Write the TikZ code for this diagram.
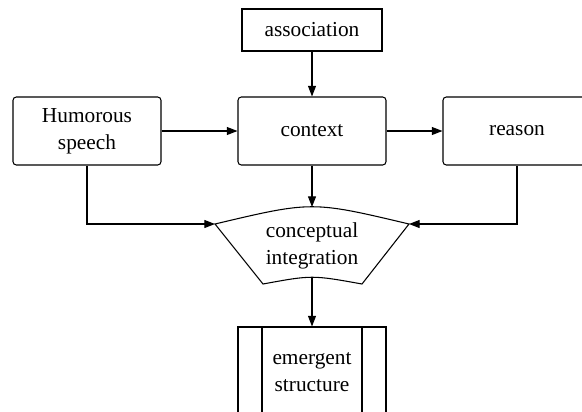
\documentclass[tikz,border=0pt]{standalone}
\usepackage{fontspec}
\setmainfont{Liberation Serif}
\usetikzlibrary{arrows.meta}
\tikzset{
  box/.style={draw, line width=0.8pt, minimum width=111pt, minimum height=51pt, align=center},
  roundbox/.style={box, rounded corners=2.5pt},
  arr/.style={-{Triangle[length=8pt,width=6pt]}, line width=0.8pt}
}
\begin{document}
\begin{tikzpicture}[x=0.75pt,y=-0.75pt,font=\fontsize{16}{20}\selectfont]
\useasboundingbox (0,0) rectangle (582,411);
\clip (0,0) rectangle (582,411);
\node[box, minimum width=105pt, minimum height=31.5pt] (assoc) at (312,30) {association};
\node[roundbox] (humor) at (87,131) {Humorous\\speech};
\node[roundbox] (context) at (312,131) {context};
\node[roundbox] (reason) at (517,131) {reason};
% conceptual integration
\coordinate (ciL) at (215,224);
\coordinate (ciR) at (409,224);
\coordinate (ciT) at (312,207);
\coordinate (ciB) at (312,277);
\coordinate (ciBL) at (263,284);
\coordinate (ciBR) at (362,284);
\draw[line width=0.8pt] (ciL) .. controls (312,201) .. (ciR) -- (ciBR) .. controls (312,275) .. (ciBL) -- cycle;
\node[align=center] (ci) at (312,246) {conceptual\\integration};
% emergent structure
\node[box, minimum height=67.5pt] (emerg) at (312,372) {emergent\\structure};
\draw[line width=0.8pt] ([xshift=-37.5pt]emerg.north) -- ([xshift=-37.5pt]emerg.south);
\draw[line width=0.8pt] ([xshift=37.5pt]emerg.north) -- ([xshift=37.5pt]emerg.south);
% arrows
\draw[arr] (assoc) -- (context);
\draw[arr] (humor) -- (context);
\draw[arr] (context) -- (reason);
\draw[arr] (context) -- (ciT);
\draw[arr] (humor.south) |- (ciL);
\draw[arr] (reason.south) |- (ciR);
\draw[arr] (ciB) -- (emerg);
\end{tikzpicture}
\end{document}
